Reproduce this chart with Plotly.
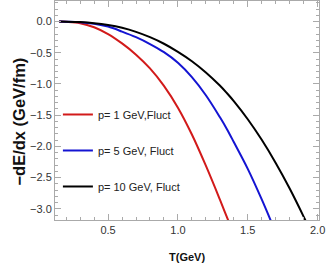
import plotly.graph_objects as go

T = [0.15, 0.2, 0.3, 0.4, 0.5, 0.6, 0.7, 0.8, 0.9, 1.0, 1.1, 1.2, 1.3, 1.35, 1.4, 1.5, 1.6, 1.7, 1.8, 1.9, 2.0]
red = [0, -0.004, -0.025, -0.09, -0.20, -0.35, -0.53, -0.75, -1.03, -1.38, -1.81, -2.31, -2.85, -3.13, -3.41]
blue = [0, -0.002, -0.01, -0.035, -0.08, -0.16, -0.25, -0.36, -0.49, -0.66, -0.89, -1.18, -1.53, -1.72, -1.93, -2.36, -2.85, -3.38]
black = [0, -0.001, -0.008, -0.025, -0.055, -0.10, -0.165, -0.25, -0.355, -0.485, -0.635, -0.815, -1.025, -1.145, -1.275, -1.565, -1.895, -2.265, -2.675, -3.125, -3.605]
names = ["p= 1 GeV,Fluct", "p= 5 GeV, Fluct", "p= 10 GeV, Fluct"]
colors = ["#d21a1a", "#1414d2", "#000000"]
series = [red, blue, black]

FONT = "Liberation Sans, Arial, sans-serif"

fig = go.Figure()
for i, (ys, nm, c) in enumerate(zip(series, names, colors)):
    fig.add_trace(go.Scatter(x=T[:len(ys)], y=ys, mode="lines", name=nm,
                             legendgroup=str(i),
                             line=dict(color=c, width=2, shape="spline")))

axis_common = dict(showgrid=False, zeroline=False, showline=True, linecolor="#aaaaaa",
                   linewidth=1, mirror="ticks", ticks="inside", ticklen=6,
                   tickcolor="#aaaaaa", automargin=False,
                   tickfont=dict(family=FONT, size=11, color="#333333"))

fig.update_layout(
    width=327, height=273,
    margin=dict(l=55, r=8, t=1, b=53),
    plot_bgcolor="white", paper_bgcolor="white",
    showlegend=True,
    legend=dict(x=0.011, y=0.548, xanchor="left", yanchor="top",
                bgcolor="rgba(0,0,0,0)", tracegroupgap=17, itemwidth=30,
                font=dict(family=FONT, size=11, color="#222222")),
    xaxis=dict(range=[0.12, 2.01], tickvals=[0.5, 1.0, 1.5, 2.0],
               ticktext=["0.5", "1.0", "1.5", "2.0"],
               minor=dict(dtick=0.1, tick0=0, ticks="inside", ticklen=3, tickcolor="#aaaaaa"),
               **axis_common),
    yaxis=dict(range=[-3.18, 0.33], tickvals=[0, -0.5, -1, -1.5, -2, -2.5, -3],
               ticktext=["0.0", "\u22120.5", "\u22121.0", "\u22121.5", "\u22122.0", "\u22122.5", "\u22123.0"],
               minor=dict(dtick=0.1, tick0=0, ticks="inside", ticklen=3, tickcolor="#aaaaaa"),
               **axis_common),
    annotations=[
        dict(text="<b>\u2212dE/dx (GeV/fm)</b>", xref="paper", yref="paper",
             x=-0.136, y=0.45, xanchor="center", yanchor="middle", textangle=-90,
             showarrow=False, font=dict(family=FONT, size=16.5, color="#111111")),
        dict(text="<b>T(GeV)</b>", xref="paper", yref="paper",
             x=0.5, y=-0.17, xanchor="center", yanchor="middle",
             showarrow=False, font=dict(family=FONT, size=11, color="#111111")),
    ],
)

fig.write_html("out.html", config={"displayModeBar": False},
               post_script="document.body.style.margin='0';document.body.style.overflow='hidden';")
